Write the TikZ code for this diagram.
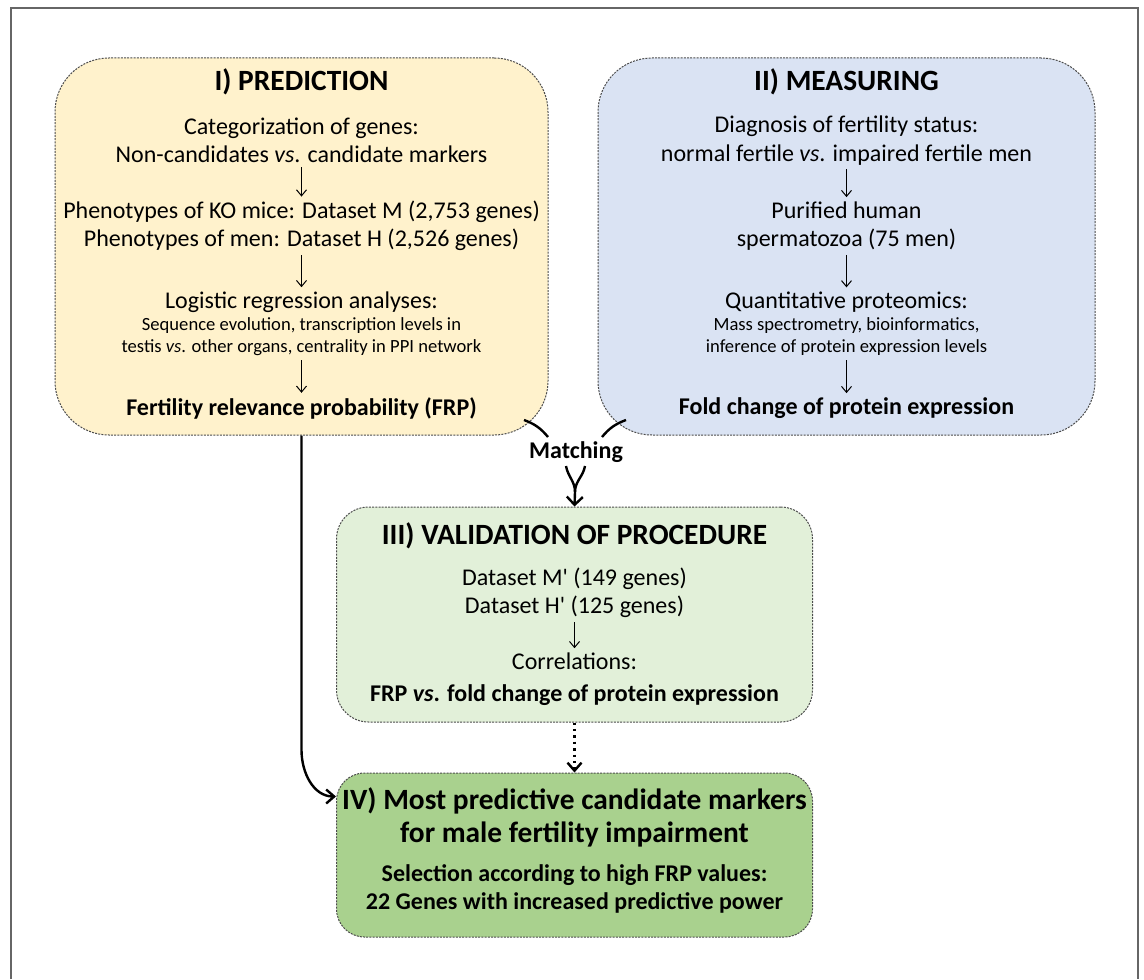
\documentclass[tikz,border=0pt]{standalone}
\usepackage{fontspec}
\setmainfont{Carlito}
\usetikzlibrary{arrows.meta}
\definecolor{predfill}{HTML}{FFF2CC}
\definecolor{measfill}{HTML}{DAE3F3}
\definecolor{validfill}{HTML}{E2F0D9}
\definecolor{markfill}{HTML}{A9D18E}
\newcommand{\bodyfont}{\fontsize{12}{14.2}\selectfont}
\newcommand{\smallfont}{\fontsize{9.3}{11}\selectfont}
\newcommand{\titlefont}{\fontsize{14.7}{16.5}\selectfont\bfseries}
\begin{document}
\begin{tikzpicture}[x=0.5pt, y=-0.5pt,
  box/.style={draw=black!70, line width=0.5pt, dash pattern=on 1pt off 0.6pt, inner sep=0pt},
  txt/.style={align=center, inner sep=1pt, font=\bodyfont},
  small txt/.style={align=center, inner sep=1pt, font=\smallfont},
  title txt/.style={align=center, inner sep=1pt, font=\titlefont},
  step arrow/.style={line width=0.5pt, -{Straight Barb[length=3pt,width=5pt]}, shorten >=1pt, shorten <=1pt},
  flow/.style={line width=1.2pt}]
\useasboundingbox (0,0) rectangle (1144,979);
% frame
\draw[gray!80!black, line width=1.1pt] (11,979) -- (11,8) -- (1138,8) -- (1138,979);
% boxes
\node[box, fill=predfill, rounded corners=27pt, minimum width=246.5pt, minimum height=188.5pt] (pred) at (301.5,246.5) {};
\node[box, fill=measfill, rounded corners=27pt, minimum width=248.5pt, minimum height=188.5pt] (meas) at (846.5,246.5) {};
\node[box, fill=validfill, rounded corners=16pt, minimum width=238pt, minimum height=107.5pt] (valid) at (574.5,614.5) {};
\node[box, fill=markfill, rounded corners=14pt, minimum width=238pt, minimum height=82pt] (final) at (574.5,855) {};
% I) prediction
\node[title txt] (p0) at (301.5,82) {I) PREDICTION};
\node[txt] (p1) at (301.5,140.5) {Categorization of genes:\\Non-candidates \textit{vs}. candidate markers};
\node[txt] (p2) at (301.5,226) {Phenotypes of KO mice: Dataset M (2,753 genes)\\Phenotypes of men: Dataset H (2,526 genes)};
\node[txt] (p3) at (301.5,302) {Logistic regression analyses:};
\node[small txt] (p3s) at (301.5,337) {Sequence evolution, transcription levels in\\testis \textit{vs}. other organs, centrality in PPI network};
\node[txt, font=\bodyfont\bfseries] (p4) at (301.5,408) {Fertility relevance probability (FRP)};
\draw[step arrow] (p1) -- (p2);
\draw[step arrow] (p2) -- (p3);
\draw[step arrow] (p3s) -- (p4);
% II) measuring
\node[title txt] (m0) at (846.5,82) {II) MEASURING};
\node[txt] (m1) at (846.5,140.5) {Diagnosis of fertility status:\\normal fertile \textit{vs}. impaired fertile men};
\node[txt] (m2) at (846.5,226) {Purified human\\spermatozoa (75 men)};
\node[txt] (m3) at (846.5,302) {Quantitative proteomics:};
\node[small txt] (m3s) at (846.5,337) {Mass spectrometry, bioinformatics,\\inference of protein expression levels};
\node[txt, font=\bodyfont\bfseries] (m4) at (846.5,408) {Fold change of protein expression};
\draw[step arrow] (m1) -- (m2);
\draw[step arrow] (m2) -- (m3);
\draw[step arrow] (m3s) -- (m4);
% III) validation
\node[title txt] (v0) at (574.5,536) {III) VALIDATION OF PROCEDURE};
\node[txt] (v1) at (574.5,593) {Dataset M\textquotesingle\ (149 genes)\\Dataset H\textquotesingle\ (125 genes)};
\node[txt, font=\fontsize{12}{16}\selectfont] (v2) at (574.5,679) {Correlations:\\\textbf{FRP \textit{vs}. fold change of protein expression}};
\draw[step arrow] (v1) -- (v2);
% IV) markers
\node[title txt] (f0) at (574.5,817.5) {IV) Most predictive candidate markers\\for male fertility impairment};
\node[txt, font=\bodyfont\bfseries] (f1) at (574.5,889) {Selection according to high FRP values:\\22 Genes with increased predictive power};
% matching
\node[txt, font=\bodyfont\bfseries] (match) at (576,452) {Matching};
\coordinate (mL0) at (524,420);
\coordinate (mL1) at (548,437);
\coordinate (mR0) at (626,420);
\coordinate (mR1) at (602,437);
\coordinate (mJoin) at (575,492);
\draw[flow] (mL0) to[bend left=15] (mL1);
\draw[flow] (mR0) to[bend right=15] (mR1);
\draw[flow] (566,466) to[out=-80,in=90] (mJoin);
\draw[flow] (585,466) to[out=-100,in=90] (mJoin);
\draw[flow, -{Straight Barb[length=4pt,width=8pt]}] (mJoin) -- (valid.north);
% links to IV
\draw[flow, dotted, -{Straight Barb[length=4pt,width=7pt]}] (valid.south) -- (final.north);
\draw[flow, -{Straight Barb[length=4pt,width=7pt]}] (pred.south) -- (301.5,750) to[out=-90,in=180] ([yshift=-12pt]final.north west);
\end{tikzpicture}
\end{document}
